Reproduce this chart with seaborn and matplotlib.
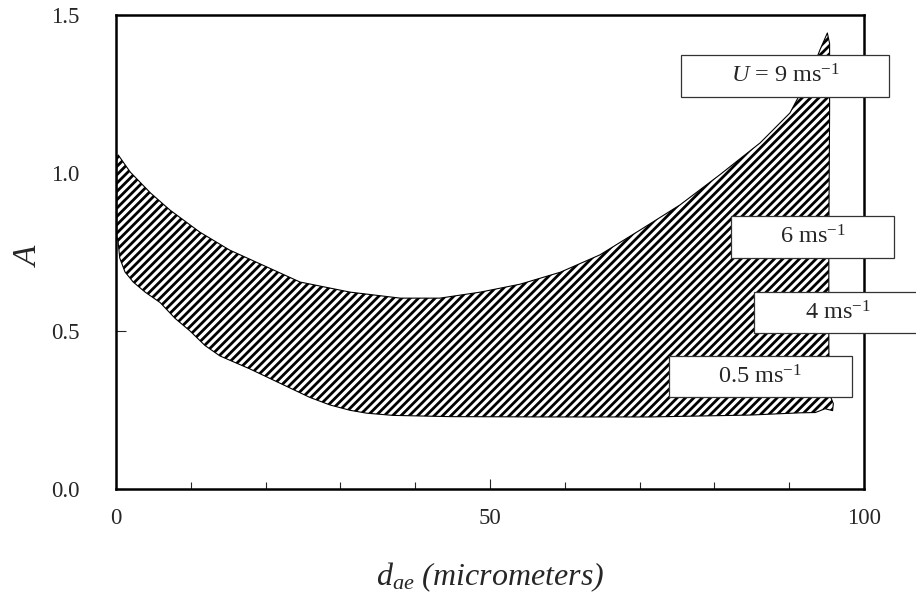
import numpy as np
import pandas as pd
import seaborn as sb
import matplotlib.pyplot as plt
from matplotlib.patches import Rectangle

# upper edge of the band (left tip -> right tip)
upper_x = [0.1, 0.3, 0.8, 1.9, 4.6, 7.2, 11.2, 15.2, 19.3, 24.6, 31.3, 38.0, 43.3,
           48.7, 54.0, 59.4, 64.7, 70.1, 75.4, 80.7, 86.1, 90.1, 92.8, 94.1, 95.1, 95.4]
upper_y = [1.04, 1.057, 1.04, 1.003, 0.937, 0.883, 0.813, 0.756, 0.712, 0.655, 0.623, 0.604, 0.604,
           0.623, 0.648, 0.686, 0.741, 0.820, 0.899, 0.994, 1.095, 1.190, 1.310, 1.389, 1.443, 1.41]
# right edge going down
right_x = [95.4, 95.3, 95.3, 95.4, 95.9]
right_y = [1.2, 0.8, 0.45, 0.30, 0.27]
# lower edge (right -> left)
lower_x = [95.8, 94.8, 93.5, 91.4, 84.8, 71.4, 58.0, 44.7, 37.0, 33.5, 31.3, 28.6, 25.9,
           21.9, 17.9, 13.9, 11.9, 9.9, 7.9, 5.9, 3.9, 2.3, 1.2, 0.5, 0.27, 0.1]
lower_y = [0.248, 0.254, 0.242, 0.241, 0.234, 0.228, 0.228, 0.229, 0.233, 0.24, 0.249, 0.266, 0.29,
           0.335, 0.38, 0.421, 0.454, 0.50, 0.54, 0.59, 0.623, 0.655, 0.687, 0.731, 0.785, 0.80]

labels = [r'$U$ = 9 ms$^{-1}$', r'6 ms$^{-1}$', r'4 ms$^{-1}$', r'0.5 ms$^{-1}$']

band = pd.DataFrame({'x': upper_x + right_x + lower_x + [upper_x[0]],
                     'y': upper_y + right_y + lower_y + [upper_y[0]]})

sb.set_style('white')
plt.rcParams['font.family'] = ['Liberation Serif', 'DejaVu Serif']
plt.rcParams['mathtext.fontset'] = 'custom'
plt.rcParams['mathtext.rm'] = 'Liberation Serif'
plt.rcParams['mathtext.it'] = 'Liberation Serif:italic'
plt.rcParams['hatch.linewidth'] = 2.0

fig = plt.figure(figsize=(9.16, 5.98), dpi=100)
ax = fig.add_axes([116/916, 1-489/598, 748/916, 474/598])

ax.fill(band['x'], band['y'], facecolor='white', edgecolor='black',
        hatch='////', linewidth=0)
sb.lineplot(data=band, x='x', y='y', sort=False, color='black', linewidth=0.8,
            ax=ax, estimator=None)

# label boxes (x0, x1, y0, y1 in data units)
boxes = [(75.6, 103.3, 1.2405, 1.3734),
         (82.2, 104.0, 0.731, 0.864),
         (85.3, 107.8, 0.494, 0.623),
         (73.9, 98.4, 0.291, 0.421)]
for (x0, x1, y0, y1), lab in zip(boxes, labels):
    ax.add_patch(Rectangle((x0, y0), x1-x0, y1-y0, facecolor='white',
                           edgecolor='#333333', linewidth=0.9, zorder=5, clip_on=False))
    ax.text((x0+x1)/2, (y0+y1)/2, lab, ha='center', va='center', fontsize=17.5,
            zorder=6, clip_on=False)

ax.set_xlim(0, 100)
ax.set_ylim(0, 1.5)
ax.set_xticks([0, 50, 100])
ax.set_xticks(np.arange(10, 100, 10), minor=True)
ax.set_yticks([0, 0.5, 1.0, 1.5])
ax.set_yticklabels(['0.0', '0.5', '1.0', '1.5'])
ax.tick_params(axis='x', which='major', direction='in', length=7, width=0.8,
               pad=14, labelsize=16.5, bottom=True)
ax.tick_params(axis='x', which='minor', direction='in', length=5, width=0.8, bottom=True)
ax.tick_params(axis='y', which='major', direction='in', length=7, width=0.8,
               pad=26, labelsize=16.5, left=True)
for s in ax.spines.values():
    s.set_linewidth(1.8)
    s.set_color('black')

ax.set_xlabel(r'$d_{ae}$ (micrometers)', fontsize=23, style='italic')
ax.xaxis.set_label_coords(0.5, -(585-489)/474)
ax.xaxis.label.set_va('baseline')
ax.set_ylabel('A', fontsize=24, style='italic')
ax.yaxis.set_label_coords(-(116-45)/748, 0.49)

plt.savefig('out.png', dpi=100)
